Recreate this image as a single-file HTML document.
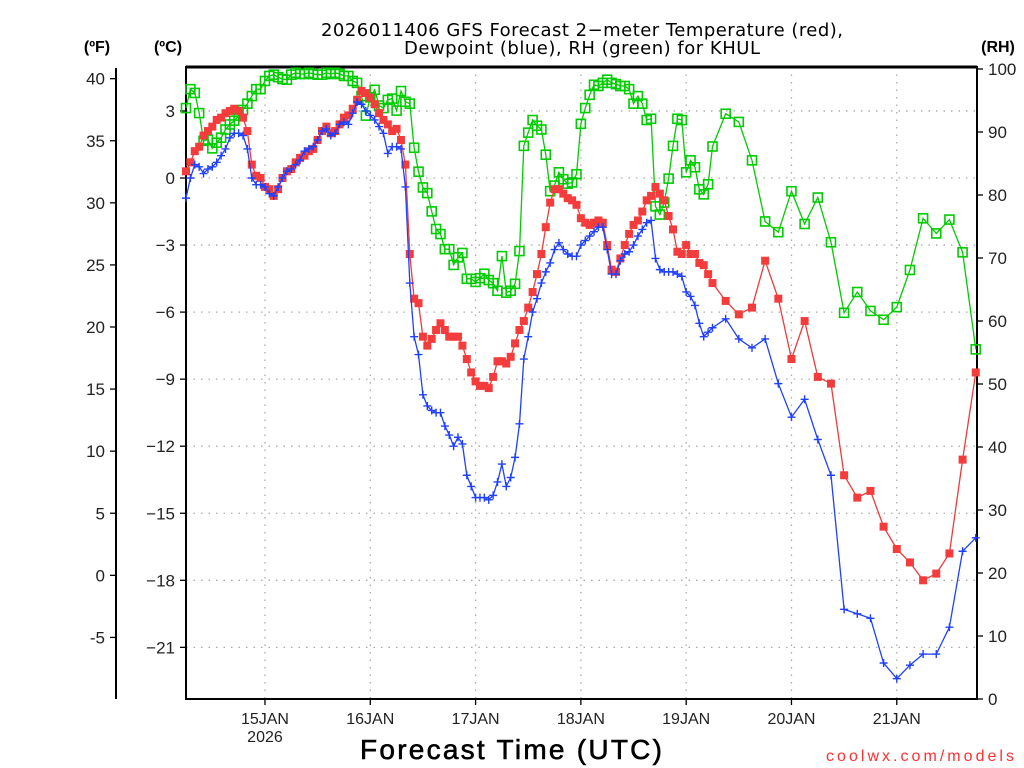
<!DOCTYPE html>
<html><head><meta charset="utf-8"><style>
html,body{margin:0;padding:0;background:#fff;}
svg{display:block;font-family:"Liberation Sans","DejaVu Sans",sans-serif;}
</style></head><body>
<svg id="chart" width="1024" height="768" viewBox="0 0 1024 768" xmlns="http://www.w3.org/2000/svg">
<text x="582" y="36" font-size="18" text-anchor="middle" fill="#000" font-family="DejaVu Sans, sans-serif" textLength="522">2026011406 GFS Forecast 2−meter Temperature (red),</text>
<text x="582" y="54" font-size="18" text-anchor="middle" fill="#000" font-family="DejaVu Sans, sans-serif" textLength="356">Dewpoint (blue), RH (green) for KHUL</text>
<text x="97" y="52" font-size="16" font-weight="bold" text-anchor="middle">(ºF)</text>
<text x="168" y="52" font-size="16" font-weight="bold" text-anchor="middle">(ºC)</text>
<text x="998" y="52" font-size="16" font-weight="bold" text-anchor="middle">(RH)</text>
<text x="511" y="759" font-size="28" text-anchor="middle" textLength="302" stroke="#000" stroke-width="0.6">Forecast Time (UTC)</text>
<text x="1014" y="761" font-size="16" text-anchor="end" fill="#ff3030" textLength="188">coolwx.com/models</text>
<g id="grid"></g><g id="axes"></g><g id="series"></g>
</svg>
<script>
// ---- data ----
const hoursHourlyEnd = 120;
const hours3hStart = 123, hours3hEnd = 180;
const tempC = [0.3,0.7,1.2,1.4,1.9,2.1,2.3,2.6,2.7,2.9,3.0,3.1,3.0,2.7,2.1,0.6,0.1,0.0,-0.4,-0.5,-0.8,-0.5,0.0,0.3,0.4,0.7,0.9,1.0,1.2,1.3,1.7,2.1,2.3,2.0,2.1,2.4,2.7,2.8,3.1,3.5,3.9,3.8,3.6,3.3,2.9,2.6,2.4,2.1,2.2,1.7,0.6,-3.4,-5.4,-5.6,-7.1,-7.5,-7.2,-6.8,-6.5,-6.8,-7.1,-7.1,-7.1,-7.5,-8.1,-8.7,-9.1,-9.3,-9.3,-9.4,-8.9,-8.2,-8.2,-8.3,-8.0,-7.4,-6.8,-6.4,-5.8,-5.1,-4.3,-3.4,-2.2,-1.1,-0.5,-0.5,-0.7,-0.9,-1.0,-1.2,-1.8,-2.0,-2.1,-2.0,-1.9,-2.0,-3.0,-4.1,-4.2,-3.6,-3.0,-2.5,-2.1,-1.9,-1.5,-1.0,-0.8,-0.4,-0.7,-1.0,-1.7,-2.3,-3.3,-3.4,-3.0,-3.4,-3.4,-3.8,-3.9,-4.3,-4.7,
 -5.5,-6.1,-5.8,-3.7,-5.4,-8.1,-6.4,-8.9,-9.2,-13.3,-14.3,-14.0,-15.6,-16.6,-17.2,-18.0,-17.7,-16.8,-12.6,-8.7];
const dewC = [-0.9,0.0,0.6,0.5,0.2,0.4,0.5,0.7,1.0,1.3,1.8,2.0,2.0,1.9,1.3,0.0,-0.3,-0.3,-0.4,-0.7,-0.8,-0.4,0.0,0.3,0.4,0.6,0.8,1.2,1.3,1.4,1.7,2.1,2.2,1.9,2.0,2.4,2.5,2.4,2.9,3.4,3.3,3.0,2.8,2.6,2.3,2.0,1.1,1.4,1.4,1.3,-0.4,-4.7,-7.1,-7.9,-9.7,-10.2,-10.4,-10.5,-10.5,-11.1,-11.5,-12.0,-11.6,-11.9,-13.3,-13.8,-14.3,-14.3,-14.3,-14.4,-14.2,-13.6,-12.8,-13.8,-13.4,-12.5,-11.0,-8.1,-7.1,-6.0,-5.4,-4.7,-4.2,-3.8,-3.2,-2.9,-3.2,-3.4,-3.5,-3.5,-3.0,-2.8,-2.6,-2.4,-2.2,-2.2,-3.2,-4.3,-4.3,-3.7,-3.4,-3.3,-3.0,-2.6,-2.3,-2.0,-1.9,-3.6,-4.1,-4.2,-4.2,-4.2,-4.3,-4.4,-5.1,-5.3,-5.7,-6.5,-7.1,-6.9,-6.7,
 -6.3,-7.2,-7.6,-7.2,-9.2,-10.7,-9.9,-11.7,-13.3,-19.3,-19.5,-19.7,-21.7,-22.4,-21.8,-21.3,-21.3,-20.1,-16.7,-16.1];
const rhPct = [93.8,96.8,96.2,93.0,88.6,88.8,87.4,88.3,89.1,90.4,91.2,91.8,92.6,93.5,94.5,95.7,96.8,96.8,98.1,98.9,99.1,98.7,98.4,98.3,99.1,99.4,99.2,99.2,99.4,99.2,99.1,99.1,99.4,99.2,99.4,99.2,98.9,98.9,98.1,97.8,95.7,92.6,95.5,96.7,94.2,93.8,95.1,95.3,93.4,96.5,94.8,94.5,87.5,83.7,81.2,80.3,77.4,74.6,73.8,71.4,71.4,68.9,70.1,70.8,66.7,66.7,66.2,66.8,67.5,66.5,66.0,64.8,70.3,64.5,64.8,65.9,71.1,87.8,89.9,91.9,91.0,90.4,86.4,80.6,81.5,83.6,82.5,81.8,82.0,83.3,91.3,93.8,95.9,97.5,97.3,97.8,98.3,97.8,97.6,97.3,97.3,96.8,94.5,95.7,94.5,91.9,92.1,78.2,76.9,78.8,82.6,87.8,92.1,91.9,83.6,85.5,84.4,80.9,80.1,81.7,87.7,
 92.9,91.6,85.5,75.8,74.1,80.6,75.4,79.6,72.5,61.3,64.6,61.6,60.2,62.2,68.1,76.3,73.9,76.1,70.9,55.5];
const dayLabels = ["15JAN","16JAN","17JAN","18JAN","19JAN","20JAN","21JAN"];
const dayHours = [18,42,66,90,114,138,162];
const cTicks = [3,0,-3,-6,-9,-12,-15,-18,-21];
const fTicks = [40,35,30,25,20,15,10,5,0,-5];
const rhTicks = [100,90,80,70,60,50,40,30,20,10,0];

// ---- scales ----
const X0=186, X1=977, Y0=67, Y1=699;
const PXH = 105.3/24;
const xS = h => X0 + h*PXH;
const yC = c => 178 - 22.35*c;
const yF = f => yC((f-32)*5/9);
const yRH = r => Y1 - r*(Y1-69)/100;
const NS="http://www.w3.org/2000/svg";
function mk(tag, attrs, parent){const e=document.createElementNS(NS,tag);for(const k in attrs)e.setAttribute(k,attrs[k]);parent.appendChild(e);return e;}
const hours=[];for(let h=0;h<=hoursHourlyEnd;h++)hours.push(h);for(let h=hours3hStart;h<=hours3hEnd;h+=3)hours.push(h);

const grid=document.getElementById('grid'), axes=document.getElementById('axes'), ser=document.getElementById('series');
cTicks.forEach(c=>{const l=mk('line',{x1:X0,x2:X1,y1:yC(c),y2:yC(c),stroke:'#aaa','stroke-width':1.3,'stroke-dasharray':'1.5 6'},grid);

});
dayHours.forEach(h=>{const l=mk('line',{x1:xS(h),x2:xS(h),y1:Y0,y2:Y1,stroke:'#aaa','stroke-width':1.3,'stroke-dasharray':'1.5 6'},grid);

});
const fr=mk('rect',{x:X0,y:Y0,width:X1-X0,height:Y1-Y0,fill:'none',stroke:'#000','stroke-width':2},axes);


mk('line',{x1:X0,x2:X1,y1:Y0,y2:Y0,stroke:'#000','stroke-width':3},axes);
const fa=mk('line',{x1:116,x2:116,y1:68,y2:Y1,stroke:'#000','stroke-width':2},axes);


fTicks.forEach(f=>{const y=yF(f);mk('line',{x1:110,x2:116,y1:y,y2:y,stroke:'#000','stroke-width':1.3},axes);
const t=mk('text',{x:105,y:y+6,'font-size':17,'text-anchor':'end',fill:'#222'},axes);t.textContent=f;

});
cTicks.forEach(c=>{const y=yC(c);mk('line',{x1:180,x2:186,y1:y,y2:y,stroke:'#000','stroke-width':1.3},axes);
const t=mk('text',{x:175,y:y+6,'font-size':17,'text-anchor':'end',fill:'#222'},axes);t.textContent=c<0?'−'+(-c):c;

});
rhTicks.forEach(r=>{const y=yRH(r);mk('line',{x1:X1,x2:X1+6,y1:y,y2:y,stroke:'#000','stroke-width':1.3},axes);
const t=mk('text',{x:988,y:y+6,'font-size':17,fill:'#222'},axes);t.textContent=r;

});
dayHours.forEach((h,i)=>{const x=xS(h);mk('line',{x1:x,x2:x,y1:Y1,y2:Y1+6,stroke:'#000','stroke-width':1.3},axes);
const t=mk('text',{x:x,y:724,'font-size':16,'text-anchor':'middle',fill:'#222'},axes);t.textContent=dayLabels[i];

});
const yr=mk('text',{x:xS(18),y:742,'font-size':16,'text-anchor':'middle',fill:'#222'},axes);yr.textContent='2026';



function line(vals, yfn, color, name){
  const pts=vals.map((v,i)=>xS(hours[i]).toFixed(1)+','+yfn(v).toFixed(1)).join(' ');
  const p=mk('polyline',{points:pts,fill:'none',stroke:color,'stroke-width':1.3},ser);
  
  
}
line(rhPct,yRH,'#00cc00','rh-line');
rhPct.forEach((v,i)=>{const x=xS(hours[i]),y=yRH(v);
const m=mk('rect',{x:x-4.5,y:y-4.5,width:9,height:9,fill:'none',stroke:'#00cc00','stroke-width':1.6},ser);

});
line(tempC,yC,'#f03a3a','temperature-line');
tempC.forEach((v,i)=>{const x=xS(hours[i]),y=yC(v);
const m=mk('rect',{x:x-4,y:y-4,width:8,height:8,fill:'#f43c3c'},ser);

});
line(dewC,yC,'#2040ff','dewpoint-line');
dewC.forEach((v,i)=>{const x=xS(hours[i]),y=yC(v);
const m=mk('path',{d:`M${x-4},${y}H${x+4}M${x},${y-4}V${y+4}`,stroke:'#2040ff','stroke-width':1.4},ser);

});
</script>
</body></html>
